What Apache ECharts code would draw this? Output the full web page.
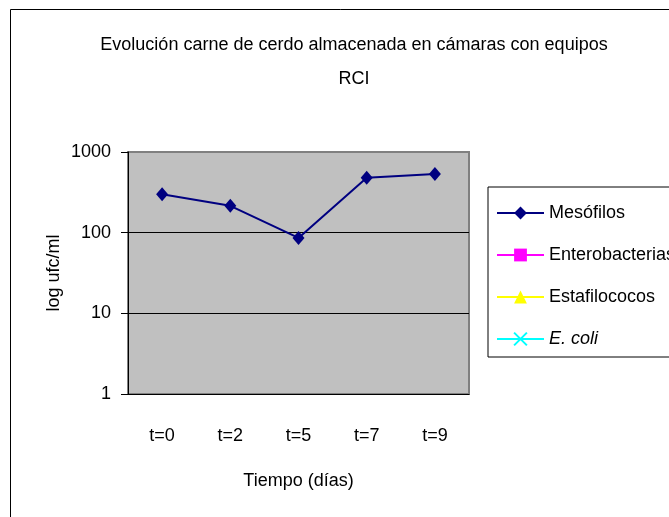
<!DOCTYPE html>
<html><head><meta charset="utf-8">
<script src="https://cdn.jsdelivr.net/npm/echarts@6/dist/echarts.min.js"></script>
<style>html,body{margin:0;padding:0;background:#fff}#c{width:669px;height:517px}</style>
</head><body><div id="c"></div>
<script>
const categories = ['t=0', 't=2', 't=5', 't=7', 't=9'];
const mesofilos = [300, 215, 86, 480, 535];
const enterobacterias = [];
const estafilococos = [];
const ecoli = [];
const seriesNames = ['Mesófilos', 'Enterobacterias', 'Estafilococos', 'E. coli'];
const yTicks = [1, 10, 100, 1000];

const FONT = "'Liberation Sans', Arial, sans-serif";
const FS = 18;
const chart = echarts.init(document.getElementById('c'));
chart.setOption({
  backgroundColor: '#fff',
  animation: false,
  title: {
    text: 'Evolución carne de cerdo almacenada en cámaras con equipos\nRCI',
    left: 349, top: 23, textAlign: 'center',
    textStyle: { fontFamily: FONT, fontSize: FS, fontWeight: 'normal', color: '#000', lineHeight: 34 }
  },
  graphic: [{
    type: 'rect', shape: { x: 10.5, y: 9.5, width: 700, height: 600 },
    style: { fill: 'none', stroke: '#000', lineWidth: 1 }, z: -1
  }],
  legend: {
    orient: 'vertical', left: 488, top: 187,
    data: seriesNames,
    borderColor: '#000', borderWidth: 1,
    padding: [14, 8, 6, 8],
    itemWidth: 47, itemHeight: 16, itemGap: 18,
    textStyle: { fontFamily: FONT, fontSize: FS, color: '#000', lineHeight: 24,
      rich: { i: { fontFamily: FONT, fontSize: FS, fontStyle: 'italic', color: '#000', lineHeight: 24 } } },
    formatter: n => n === 'E. coli' ? '{i|E. coli}' : n
  },
  grid: { left: 128, top: 152, right: 200, bottom: 123, show: true,
    backgroundColor: '#c0c0c0', borderColor: '#808080', borderWidth: 2 },
  xAxis: {
    type: 'category', data: categories,
    name: 'Tiempo (días)', nameLocation: 'middle', nameGap: 78,
    nameTextStyle: { fontFamily: FONT, fontSize: FS, color: '#000' },
    axisLine: { lineStyle: { color: '#000', width: 1 } },
    axisTick: { length: 8, lineStyle: { color: '#000' } },
    axisLabel: { fontFamily: FONT, fontSize: FS, color: '#000', margin: 33 }
  },
  yAxis: {
    type: 'log', logBase: 10, min: yTicks[0], max: yTicks[yTicks.length - 1],
    name: 'log ufc/ml', nameLocation: 'middle', nameGap: 65, nameRotate: 90, nameMoveOverlap: false,
    nameTextStyle: { fontFamily: FONT, fontSize: FS, color: '#000' },
    axisLine: { show: true, lineStyle: { color: '#000', width: 1 } },
    axisTick: { show: true, length: 7, lineStyle: { color: '#000' } },
    axisLabel: { fontFamily: FONT, fontSize: FS, color: '#000', margin: 17, formatter: v => String(v) },
    splitLine: { show: true, lineStyle: { color: ['#000', '#000', '#000', '#808080'], width: 1 } }
  },
  series: [
    { name: seriesNames[0], type: 'line', data: mesofilos, symbol: 'diamond', symbolSize: [12, 14],
      lineStyle: { color: '#000080', width: 2 }, itemStyle: { color: '#000080' } },
    { name: seriesNames[1], type: 'line', data: enterobacterias, symbol: 'rect', symbolSize: 10,
      lineStyle: { color: '#ff00ff', width: 2 }, itemStyle: { color: '#ff00ff' } },
    { name: seriesNames[2], type: 'line', data: estafilococos, symbol: 'triangle', symbolSize: 12,
      lineStyle: { color: '#ffff00', width: 2 }, itemStyle: { color: '#ffff00' } },
    { name: seriesNames[3], type: 'line', data: ecoli, symbol: 'path://M0,0L10,10M10,0L0,10', symbolSize: 12,
      lineStyle: { color: '#00ffff', width: 2 }, itemStyle: { color: '#00ffff', borderColor: '#00ffff', borderWidth: 2 } }
  ]
});
</script></body></html>
